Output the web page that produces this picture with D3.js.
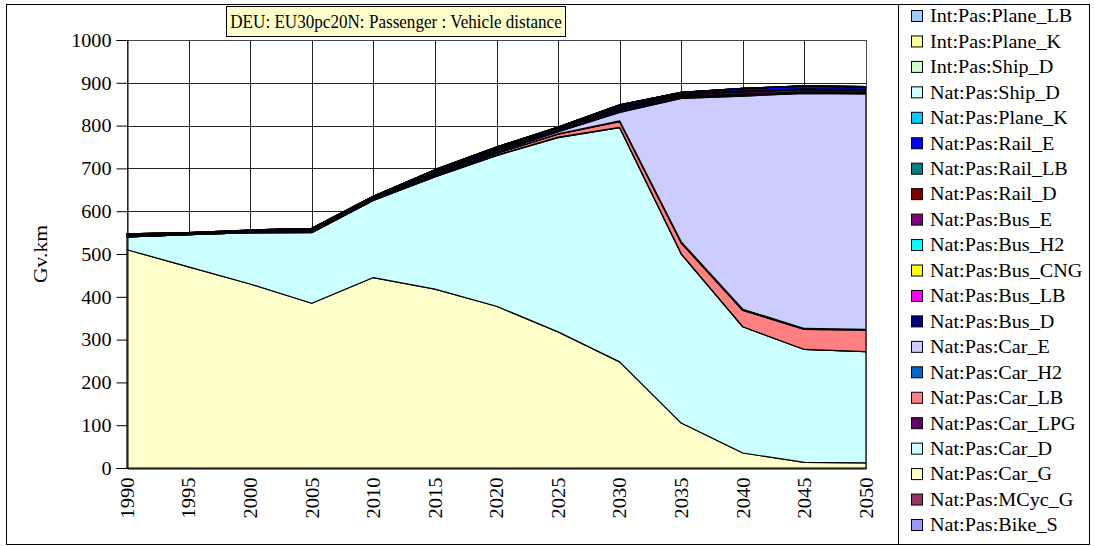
<!DOCTYPE html>
<html>
<head>
<meta charset="utf-8">
<script src="https://cdn.jsdelivr.net/npm/d3@7"></script>
<style>
  html, body { margin: 0; padding: 0; background: #fff; }
  svg { display: block; font-family: "Liberation Serif", "Times New Roman", serif; }
  svg text { font-family: "Liberation Serif", "Times New Roman", serif; fill: #000; }
</style>
</head>
<body>
<svg id="chart" width="1094" height="546"></svg>
<script>
// Years on the x axis
const years = [1990, 1995, 2000, 2005, 2010, 2015, 2020, 2025, 2030, 2035, 2040, 2045, 2050];
const yTicks = [0, 100, 200, 300, 400, 500, 600, 700, 800, 900, 1000];

// Vehicle distance per mode (Gv.km), bottom of the stack first
const bikeS    = [0, 0, 0, 0, 0, 0, 0, 0, 0, 0, 0, 0, 0];
const mcycG    = [0, 0, 0, 0, 0, 0, 0, 0, 0, 0, 0, 0, 0];
const carG     = [510, 470, 430, 385, 445, 418, 378, 318, 248, 105, 35, 13, 12];
const carD     = [30, 75, 120, 165, 180, 262, 352, 454, 547, 395, 295, 264, 260];
const carLPG   = [0, 0, 0, 0.5, 1, 1, 1, 1, 1, 0.5, 0, 0, 0];
const carLB    = [0, 0, 0, 0, 1, 2, 4, 7, 13, 25, 38, 47, 50];
const carH2    = [0, 0, 0, 0, 0, 0, 0, 0.5, 2, 3, 3, 2, 2];
const carE     = [0, 0, 0, 0, 0, 1, 2, 5, 20, 335, 498, 549, 550];
const busD     = [4, 3, 3, 4, 4, 5, 5, 4, 5, 3, 2, 1, 1];
const busLB    = [0, 0, 0, 0, 0.5, 1, 1, 1, 1, 1, 1, 1, 1];
const busCNG   = [0, 0, 0, 0.5, 0.5, 0.5, 0.5, 0.5, 1, 1, 1, 1, 1];
const busH2    = [0, 0, 0, 0, 0, 0, 0, 0, 0.5, 1, 1, 1, 1];
const busE     = [0, 0, 0, 0, 0, 0, 0.5, 1, 2, 3, 5, 5, 5];
const railD    = [1.5, 1, 1, 2, 1.5, 2, 2, 1.5, 2, 1, 1, 1, 0.5];
const railLB   = [0, 0, 0, 0, 0, 0.5, 0.5, 0.5, 1, 1, 1, 1, 1];
const railE    = [1.5, 1, 1, 2, 1.5, 3, 3, 2.5, 4, 3, 5, 6, 5.5];
const natPlaneK = [0, 0, 1, 1, 0, 1, 0.5, 0, 1, 0, 1, 1, 1];
const natShipD = [0, 0, 0, 0, 0, 0, 0, 0, 0, 0, 0, 0, 0];
const intShipD = [0, 0, 0, 0, 0, 0, 0, 0, 0, 0, 0, 0, 0];
const intPlaneK = [0, 0, 0, 0, 0, 0, 0, 0, 0, 0, 0, 0, 0];
const intPlaneLB = [0, 0, 0, 0, 0, 0, 0, 0, 0, 0, 0, 0, 0];

// Series names and fills, in stacking order (bottom first)
const seriesNames = [
  "Nat:Pas:Bike_S", "Nat:Pas:MCyc_G", "Nat:Pas:Car_G", "Nat:Pas:Car_D", "Nat:Pas:Car_LPG",
  "Nat:Pas:Car_LB", "Nat:Pas:Car_H2", "Nat:Pas:Car_E", "Nat:Pas:Bus_D", "Nat:Pas:Bus_LB",
  "Nat:Pas:Bus_CNG", "Nat:Pas:Bus_H2", "Nat:Pas:Bus_E", "Nat:Pas:Rail_D", "Nat:Pas:Rail_LB",
  "Nat:Pas:Rail_E", "Nat:Pas:Plane_K", "Nat:Pas:Ship_D", "Int:Pas:Ship_D", "Int:Pas:Plane_K",
  "Int:Pas:Plane_LB"
];
const seriesValues = [
  bikeS, mcycG, carG, carD, carLPG, carLB, carH2, carE, busD, busLB,
  busCNG, busH2, busE, railD, railLB, railE, natPlaneK, natShipD, intShipD, intPlaneK, intPlaneLB
];
const seriesColors = [
  "#9999FF", "#993366", "#FFFFCC", "#CCFFFF", "#660066",
  "#FF8080", "#0066CC", "#CCCCFF", "#000080", "#FF00FF",
  "#FFFF00", "#00FFFF", "#800080", "#800000", "#008080",
  "#0000FF", "#00CCFF", "#CCFFFF", "#CCFFCC", "#FFFF99",
  "#99CCFF"
];

const titleText = "DEU: EU30pc20N: Passenger : Vehicle distance";
const yLabel = "Gv.km";

const FONT = 18;

const svg = d3.select("#chart");
const plot = { left: 127, right: 866, top: 40, bottom: 468 };

// Outer frame
svg.append("rect").attr("x", 6.5).attr("y", 4.5).attr("width", 1083).attr("height", 540)
  .attr("fill", "#fff").attr("stroke", "#000").attr("stroke-width", 1);

const x = d3.scalePoint().domain(years).range([plot.left, plot.right]);
const y = d3.scaleLinear().domain([0, 1000]).range([plot.bottom, plot.top]);

// Gridlines
const grid = svg.append("g").attr("stroke", "#222").attr("stroke-width", 1);
grid.selectAll("line.h").data(yTicks).join("line")
  .attr("x1", plot.left).attr("x2", plot.right)
  .attr("y1", d => Math.round(y(d)) + 0.5).attr("y2", d => Math.round(y(d)) + 0.5);
grid.selectAll("line.v").data(years).join("line")
  .attr("x1", d => Math.round(x(d)) + 0.5).attr("x2", d => Math.round(x(d)) + 0.5)
  .attr("y1", plot.top).attr("y2", plot.bottom);

// Stacked areas
const table = years.map((yr, i) => {
  const row = { year: yr };
  seriesNames.forEach((n, k) => { row[n] = seriesValues[k][i]; });
  return row;
});
const layers = d3.stack().keys(seriesNames)(table);
const area = d3.area()
  .x(d => x(d.data.year))
  .y0(d => y(d[0]))
  .y1(d => y(d[1]));

svg.append("g").selectAll("path").data(layers).join("path")
  .attr("d", area)
  .attr("fill", (d, i) => seriesColors[i])
  .attr("stroke", "#000")
  .attr("stroke-width", 1.2)
  .attr("stroke-linejoin", "round");

// Plot frame
svg.append("rect").attr("x", plot.left + 0.5).attr("y", plot.top + 0.5)
  .attr("width", plot.right - plot.left).attr("height", plot.bottom - plot.top)
  .attr("fill", "none").attr("stroke", "#444").attr("stroke-width", 1);

// Y axis
const yAxis = svg.append("g")
  .attr("transform", `translate(${plot.left + 0.5},0)`)
  .call(d3.axisLeft(y).tickValues(yTicks).tickSize(11).tickPadding(0).tickFormat(d3.format("d")));
yAxis.attr("font-family", null).attr("font-size", null);
yAxis.select(".domain").attr("stroke", "#000");
yAxis.selectAll(".tick line").attr("stroke", "#000");
yAxis.selectAll("text")
  .attr("font-size", FONT)
  .attr("x", null).attr("dy", "0.35em")
  .attr("transform", "translate(-16,0) scale(1.12,1)");

// X axis
const xAxis = svg.append("g")
  .attr("transform", `translate(0,${plot.bottom + 0.5})`)
  .call(d3.axisBottom(x).tickSize(0).tickPadding(0).tickFormat(d3.format("d")));
xAxis.attr("font-family", null).attr("font-size", null);
xAxis.select(".domain").attr("stroke", "#000");
xAxis.selectAll("text")
  .attr("font-size", FONT)
  .attr("text-anchor", "end")
  .attr("dy", "0.35em")
  .attr("x", 0).attr("y", 0)
  .attr("transform", "translate(0,9) rotate(-90) scale(1.14,1)");

// Y axis title
svg.append("text")
  .attr("transform", "translate(47,254) rotate(-90) scale(1.2,1)")
  .attr("text-anchor", "middle")
  .attr("font-size", FONT)
  .text(yLabel);

// Title box
const titleG = svg.append("g");
const titleT = titleG.append("text")
  .attr("transform", "translate(396,28) scale(0.95,1)")
  .attr("text-anchor", "middle")
  .attr("font-size", FONT)
  .text(titleText);
const tw = titleT.node().getComputedTextLength() * 0.95;
titleG.insert("rect", "text")
  .attr("x", Math.round(396 - tw / 2 - 4) + 0.5).attr("y", 6.5)
  .attr("width", Math.round(tw + 8)).attr("height", 30)
  .attr("fill", "#FFFFCC").attr("stroke", "#000");

// Legend (top of stack listed first)
svg.append("line").attr("x1", 898.5).attr("x2", 898.5).attr("y1", 4.5).attr("y2", 544.5)
  .attr("stroke", "#000");
const legendItems = seriesNames.map((n, i) => ({ name: n, color: seriesColors[i] })).reverse();
const item = svg.append("g").selectAll("g").data(legendItems).join("g")
  .attr("transform", (d, i) => `translate(0,${16 + i * 25.45})`);
item.append("rect")
  .attr("x", 911.5).attr("y", -5.5).attr("width", 11).attr("height", 11)
  .attr("fill", d => d.color).attr("stroke", "#000");
item.append("text")
  .attr("transform", "translate(930,0) scale(1.12,1)")
  .attr("dy", "0.35em")
  .attr("font-size", FONT)
  .text(d => d.name);
</script>
</body>
</html>
